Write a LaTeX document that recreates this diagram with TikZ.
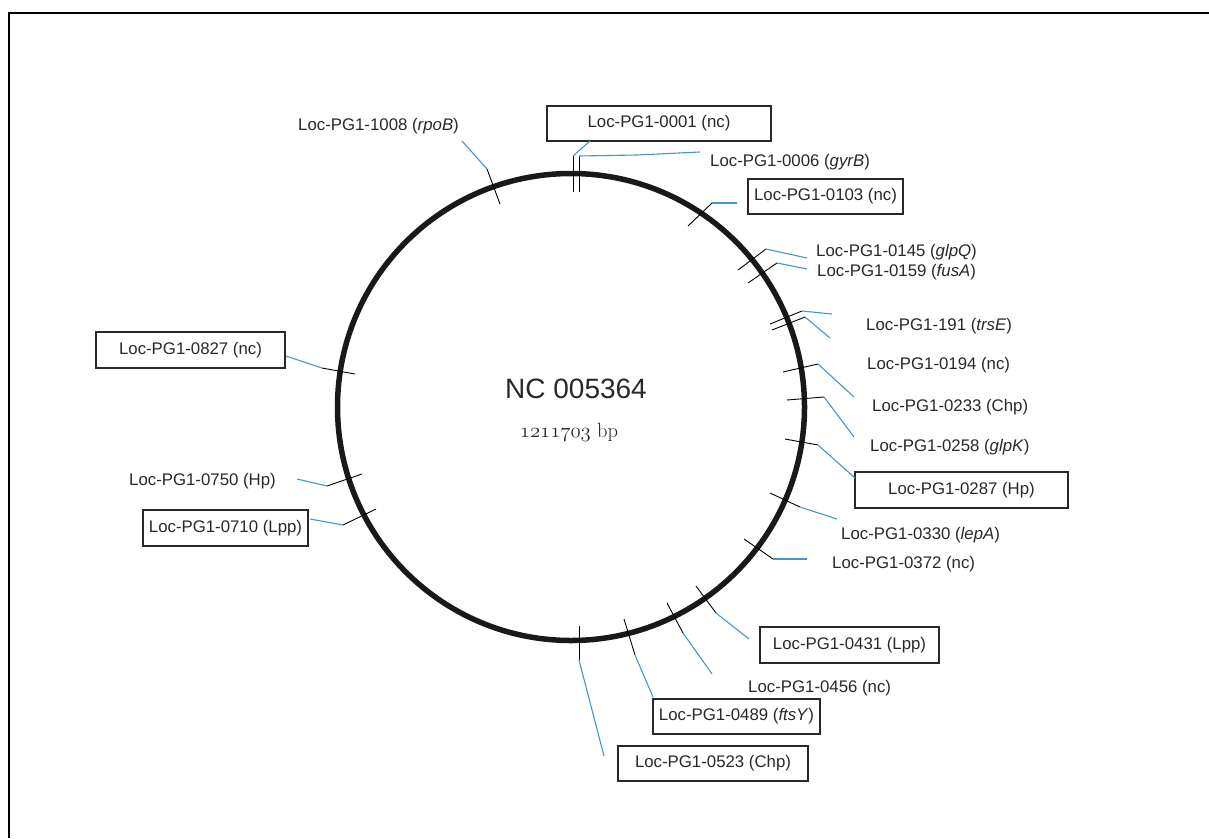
\documentclass[tikz,border=0pt]{standalone}
\usepackage{fontspec}
\newfontfamily\lab{Liberation Sans}
\definecolor{leader}{RGB}{70,150,205}
\definecolor{ink}{RGB}{40,40,40}
\tikzset{
  lbl/.style={font=\lab\fontsize{16.8}{18}\selectfont, inner sep=0pt, anchor=west, text=ink},
  boxlbl/.style={font=\lab\fontsize{16.8}{18}\selectfont, text=ink, draw=ink, line width=1.3pt, inner sep=0pt, minimum height=35pt},
  tickline/.style={black, line width=0.9pt},
  lead/.style={leader, line width=1.1pt},
}
\begin{document}
\begin{tikzpicture}[x=1pt,y=1pt]
\useasboundingbox (0,0) rectangle (1209,-838);
% frame
\draw[line width=2pt] (8.5,-838) -- (8.5,-12.7) -- (1209,-12.7);
% chromosome ring
\node[circle, draw=black!90, line width=5.5pt, minimum size=467pt, inner sep=0pt] (ring) at (571,-407) {};
\node[font=\lab\fontsize{28}{30}\selectfont, text=ink, inner sep=0pt] (name) at (576,-389) {NC 005364};
\node[font=\fontsize{20.5}{22}\selectfont, text=ink, inner sep=0pt] (size) at (569,-432) {{\usefont{OML}{cmm}{m}{it}1211703} bp};

% unboxed labels
\node[lbl] (l1008) at (298,-126) {Loc-PG1-1008 (\textit{rpoB})};
\node[lbl] (l0006) at (710,-162) {Loc-PG1-0006 (\textit{gyrB})};
\node[lbl] (l0145) at (816,-252) {Loc-PG1-0145 (\textit{glpQ})};
\node[lbl] (l0159) at (817,-272) {Loc-PG1-0159 (\textit{fusA})};
\node[lbl] (l0191) at (866,-326) {Loc-PG1-191 (\textit{trsE})};
\node[lbl] (l0194) at (867,-365) {Loc-PG1-0194 (nc)};
\node[lbl] (l0233) at (872,-407) {Loc-PG1-0233 (Chp)};
\node[lbl] (l0258) at (870,-447) {Loc-PG1-0258 (\textit{glpK})};
\node[lbl] (l0330) at (841,-535) {Loc-PG1-0330 (\textit{lepA})};
\node[lbl] (l0372) at (832,-564) {Loc-PG1-0372 (nc)};
\node[lbl] (l0456) at (748,-688) {Loc-PG1-0456 (nc)};
\node[lbl] (l0750) at (129,-481) {Loc-PG1-0750 (Hp)};

% boxed labels
\node[boxlbl, minimum width=224pt] (l0001) at (659,-123.5) {Loc-PG1-0001 (nc)};
\node[boxlbl, minimum width=155pt] (l0103) at (825.5,-196.5) {Loc-PG1-0103 (nc)};
\node[boxlbl, minimum width=213pt, minimum height=36pt] (l0287) at (961.5,-490) {Loc-PG1-0287 (Hp)};
\node[boxlbl, minimum width=179pt, minimum height=36pt] (l0431) at (849.5,-645) {Loc-PG1-0431 (Lpp)};
\node[boxlbl, minimum width=167pt] (l0489) at (736.5,-716.5) {Loc-PG1-0489 (\textit{ftsY})};
\node[boxlbl, minimum width=190pt] (l0523) at (713,-763.5) {Loc-PG1-0523 (Chp)};
\node[boxlbl, minimum width=189pt, minimum height=36pt] (l0827) at (190.5,-350) {Loc-PG1-0827 (nc)};
\node[boxlbl, minimum width=165pt, minimum height=36pt] (l0710) at (225.5,-528) {Loc-PG1-0710 (Lpp)};

% ticks on the ring (inner, outer) and leader ends
\foreach \n/\ix/\iy/\ox/\oy/\ex/\ey in {
  1008/500/204/487/169/462/141,
  0001/573/192/573/156/590/141,
  0103/688/226/712/203/737/203,
  0145/738/270/766/249/807/258,
  0159/748/283/777/263/807/269,
  0191a/770/324/802/311/832/314,
  0191b/772/330/805/317/830/338,
  0194/783/372/818/364/854/397,
  0233/787/400/824/397/854/437,
  0258/785/439/818/445/855/478,
  0330/770/493/800/507/837/519,
  0372/744/539/773/559/807/559,
  0431/696/586/716/613/749/639,
  0456/667/603/683/633/712/674,
  0489/624/619/635/655/653/697,
  0523/579/626/579/660/604/756,
  0827/355/374/322/368/286/356,
  0750/362/474/327/486/297/479,
  0710/376/509/343/525/310/519}{
  \coordinate (t\n i) at (\ix,-\iy);
  \coordinate (t\n o) at (\ox,-\oy);
  \coordinate (e\n) at (\ex,-\ey);
  \draw[tickline] (t\n i) -- (t\n o);
  \draw[lead] (t\n o) -- (e\n);
}
% gyrB tick with its bent leader
\coordinate (t0006i) at (579,-192);
\coordinate (t0006o) at (579,-156);
\coordinate (k0006) at (637,-155);
\coordinate (e0006) at (700,-152);
\draw[tickline] (t0006i) -- (t0006o);
\draw[lead] (t0006o) -- (k0006) -- (e0006);
\end{tikzpicture}
\end{document}
